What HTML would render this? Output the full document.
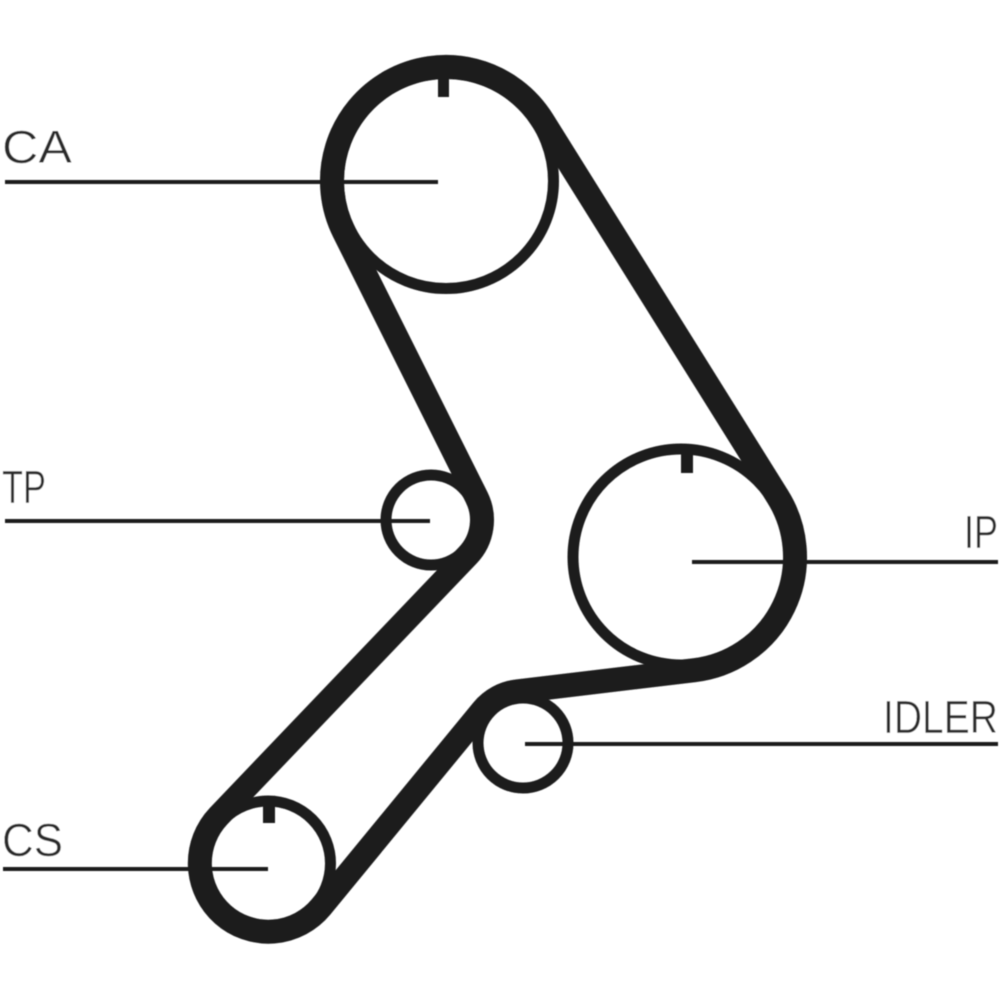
<!DOCTYPE html>
<html><head><meta charset="utf-8"><style>html,body{margin:0;padding:0;background:#fff}svg{display:block}</style></head>
<body>
<svg width="1000" height="1000" viewBox="0 0 1000 1000" xmlns="http://www.w3.org/2000/svg">
<defs><filter id="soft" filterUnits="userSpaceOnUse" x="0" y="0" width="1000" height="1000"><feGaussianBlur stdDeviation="0.6"/></filter></defs>
<rect width="1000" height="1000" fill="#fff"/>
<g filter="url(#soft)">
<g fill="none" stroke="#1c1c1c">
<circle cx="446" cy="181" r="107.5" stroke-width="11"/>
<circle cx="681" cy="557" r="108" stroke-width="11"/>
<circle cx="431" cy="520" r="45" stroke-width="11"/>
<circle cx="523" cy="743" r="45" stroke-width="11"/>
<circle cx="268" cy="863.5" r="62.5" stroke-width="11"/>
<path stroke-width="24" stroke-linejoin="round" d="M542.7 120.6 L777.7 496.6 A114 114 0 0 1 694.5 670.2 L516.9 691.4 A52 52 0 0 0 482.8 710 L321 907 A68.5 68.5 0 1 1 218.5 816.2 L467.9 555.2 A51 51 0 0 0 476.6 497.2 L344.1 232.1 A114 114 0 0 1 542.7 120.6 Z"/>
<g stroke-width="4">
<path d="M5 182H438"/>
<path d="M5 521H430"/>
<path d="M692 562H998"/>
<path d="M525 744H998"/>
<path d="M3 869H268"/>
</g>
</g>
<g fill="#1c1c1c">
<rect x="438" y="75" width="11" height="22"/>
<rect x="681" y="450" width="12" height="23"/>
<rect x="263" y="800" width="12" height="23"/>
</g>
<g font-family="'Liberation Sans',sans-serif" font-size="46" fill="#2a2a2a" stroke="#fff" stroke-width="0.5">
<text x="2" y="163" textLength="70" lengthAdjust="spacingAndGlyphs">CA</text>
<text x="2" y="503" textLength="44" lengthAdjust="spacingAndGlyphs">TP</text>
<text x="964" y="548" textLength="34" lengthAdjust="spacingAndGlyphs">IP</text>
<text x="883" y="733" textLength="115" lengthAdjust="spacingAndGlyphs">IDLER</text>
<text x="2" y="856" textLength="61" lengthAdjust="spacingAndGlyphs">CS</text>
</g>
</g>
</svg>
</body></html>
